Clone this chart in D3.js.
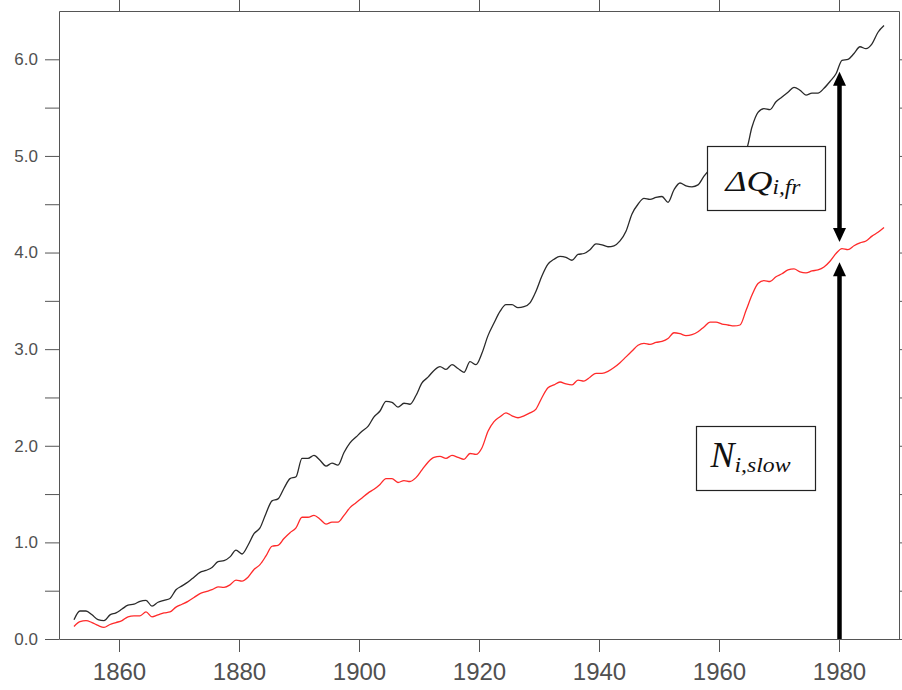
<!DOCTYPE html>
<html>
<head>
<meta charset="utf-8">
<script src="https://cdn.jsdelivr.net/npm/d3@7"></script>
<style>
  html, body { margin: 0; padding: 0; background: #fff; }
  svg { display: block; }
</style>
</head>
<body>
<script>
// Annual series, plotted at mid-year. Values start in 1852.
const firstYear = 1852;

// Total (upper, black) curve
const totalSeries = [
  0.20, 0.29, 0.29, 0.25, 0.20, 0.19, 0.25, 0.27, 0.31, 0.35,
  0.36, 0.39, 0.40, 0.34, 0.38, 0.40, 0.42, 0.51, 0.55, 0.59,
  0.64, 0.69, 0.71, 0.74, 0.80, 0.81, 0.85, 0.92, 0.88, 0.97,
  1.09, 1.15, 1.30, 1.43, 1.45, 1.56, 1.66, 1.68, 1.87, 1.87,
  1.90, 1.85, 1.79, 1.82, 1.80, 1.93, 2.03, 2.09, 2.15, 2.20,
  2.30, 2.36, 2.46, 2.45, 2.40, 2.44, 2.43, 2.52, 2.65, 2.71,
  2.78, 2.82, 2.79, 2.84, 2.80, 2.76, 2.87, 2.84, 2.96, 3.14,
  3.27, 3.39, 3.46, 3.46, 3.43, 3.44, 3.48, 3.60, 3.76, 3.88,
  3.93, 3.96, 3.95, 3.92, 3.98, 3.99, 4.03, 4.09, 4.08, 4.06,
  4.07, 4.12, 4.22, 4.40, 4.50, 4.56, 4.55, 4.57, 4.58, 4.52,
  4.65, 4.72, 4.69, 4.68, 4.70, 4.79, 4.86, 4.90, 4.94, 4.97,
  5.00, 5.03, 5.06, 5.30, 5.45, 5.49, 5.48, 5.56, 5.61, 5.66,
  5.71, 5.68, 5.63, 5.65, 5.65, 5.70, 5.77, 5.85, 5.99, 6.00,
  6.06, 6.13, 6.11, 6.16, 6.28, 6.35
];

// Slow component (lower, red) curve
const slowSeries = [
  0.13, 0.18, 0.19, 0.17, 0.14, 0.12, 0.15, 0.17, 0.19, 0.23,
  0.24, 0.24, 0.28, 0.23, 0.25, 0.27, 0.28, 0.33, 0.36, 0.39,
  0.43, 0.47, 0.49, 0.51, 0.54, 0.535, 0.56, 0.61, 0.60, 0.64,
  0.72, 0.77, 0.86, 0.96, 0.97, 1.04, 1.10, 1.15, 1.26, 1.26,
  1.28, 1.24, 1.19, 1.21, 1.21, 1.28, 1.36, 1.41, 1.46, 1.51,
  1.55, 1.60, 1.66, 1.66, 1.62, 1.64, 1.63, 1.67, 1.75, 1.83,
  1.88, 1.89, 1.87, 1.90, 1.88, 1.86, 1.92, 1.91, 1.98, 2.15,
  2.25, 2.30, 2.34, 2.31, 2.29, 2.31, 2.34, 2.38, 2.50, 2.60,
  2.63, 2.66, 2.64, 2.63, 2.68, 2.67, 2.71, 2.75, 2.75, 2.77,
  2.81, 2.86, 2.92, 2.98, 3.04, 3.06, 3.05, 3.07, 3.08, 3.11,
  3.17, 3.16, 3.14, 3.15, 3.18, 3.23, 3.28, 3.28, 3.26, 3.25,
  3.24, 3.25, 3.40, 3.56, 3.68, 3.71, 3.70, 3.75, 3.78, 3.82,
  3.83, 3.80, 3.79, 3.81, 3.82, 3.85, 3.91, 3.99, 4.04, 4.03,
  4.07, 4.10, 4.12, 4.17, 4.21, 4.26
];

const xTicks = [1860, 1880, 1900, 1920, 1940, 1960, 1980];
const yTicks = [0, 0.5, 1, 1.5, 2, 2.5, 3, 3.5, 4, 4.5, 5, 5.5, 6];
const yTickLabels = ["0.0", "", "1.0", "", "2.0", "", "3.0", "", "4.0", "", "5.0", "", "6.0"];

// Annotation: year of the arrows and the values they span
const arrowYear = 1980;
const deltaArrow = [5.87, 4.11];   // top tip, bottom tip
const slowArrow = [0, 3.90];       // base, tip
// Label boxes in data units: [yearLeft, yearRight, valueTop, valueBottom]
const deltaBox = [1958.0, 1977.6, 5.10, 4.44];
const slowBox = [1956.1, 1975.95, 2.20, 1.54];

const W = 902, H = 690;
const svg = d3.select("body").append("svg").attr("width", W).attr("height", H);

const x = d3.scaleLinear().domain([1850, 1990]).range([59, 899]);
const y = d3.scaleLinear().domain([0, 6.5]).range([639, 11]);

const axisColor = "#555";
const labelColor = "#505050";

// Plot area clip
svg.append("defs").append("clipPath").attr("id", "plotClip")
  .append("rect").attr("x", x(1850)).attr("y", y(6.5))
  .attr("width", x(1990) - x(1850)).attr("height", y(0) - y(6.5));

const totalPts = totalSeries.map((v, i) => [firstYear + i + 0.5, v]);
const slowPts = slowSeries.map((v, i) => [firstYear + i + 0.5, v]);

const line = d3.line().curve(d3.curveMonotoneX).x(d => x(d[0])).y(d => y(d[1]));

const plot = svg.append("g").attr("clip-path", "url(#plotClip)");
plot.append("path").datum(totalPts).attr("d", line)
  .attr("fill", "none").attr("stroke", "#2a2a2a").attr("stroke-width", 1.3)
  .attr("stroke-linejoin", "round");
plot.append("path").datum(slowPts).attr("d", line)
  .attr("fill", "none").attr("stroke", "#ff2a2a").attr("stroke-width", 1.3)
  .attr("stroke-linejoin", "round");

// Axes
function styleAxis(g) {
  g.selectAll("path.domain").attr("stroke", axisColor).attr("stroke-width", 1);
  g.selectAll(".tick line").attr("stroke", axisColor).attr("stroke-width", 1);
  g.selectAll(".tick text").attr("fill", labelColor)
    .attr("font-family", "'Liberation Sans', Arial, sans-serif");
}

const gx = svg.append("g").attr("transform", `translate(0,${y(0)})`)
  .call(d3.axisBottom(x).tickValues(xTicks).tickFormat(d3.format("d"))
    .tickSize(13).tickSizeOuter(0).tickPadding(11));
gx.attr("font-size", 24);
styleAxis(gx);

const gxTop = svg.append("g").attr("transform", `translate(0,${y(6.5)})`)
  .call(d3.axisTop(x).tickValues(xTicks).tickFormat(() => "")
    .tickSize(13).tickSizeOuter(0));
styleAxis(gxTop);

const gy = svg.append("g").attr("transform", `translate(${x(1850)},0)`)
  .call(d3.axisLeft(y).tickValues(yTicks).tickFormat((d, i) => yTickLabels[i])
    .tickSize(14).tickSizeOuter(0).tickPadding(7));
gy.attr("font-size", 17);
styleAxis(gy);

const gyRight = svg.append("g").attr("transform", `translate(${x(1990)},0)`)
  .call(d3.axisRight(y).tickValues(yTicks).tickFormat(() => "")
    .tickSize(13).tickSizeOuter(0));
styleAxis(gyRight);

// Arrows
const ax = x(arrowYear) + 0.5;
const headW = 13, headL = 14, shaftW = 4.5;

function arrowHead(tipY, dir) {
  // dir = -1 points up, +1 points down
  const baseY = tipY - dir * headL;
  return `M${ax},${tipY} L${ax - headW / 2},${baseY} L${ax + headW / 2},${baseY} Z`;
}

const arrows = svg.append("g");
// double arrow between the curves
arrows.append("line")
  .attr("x1", ax).attr("x2", ax)
  .attr("y1", y(deltaArrow[0]) + headL - 1).attr("y2", y(deltaArrow[1]) - headL + 1)
  .attr("stroke", "#000").attr("stroke-width", shaftW);
arrows.append("path").attr("d", arrowHead(y(deltaArrow[0]), -1)).attr("fill", "#000");
arrows.append("path").attr("d", arrowHead(y(deltaArrow[1]), 1)).attr("fill", "#000");
// single arrow from the axis to the lower curve
arrows.append("line")
  .attr("x1", ax).attr("x2", ax)
  .attr("y1", y(slowArrow[0])).attr("y2", y(slowArrow[1]) + headL - 1)
  .attr("stroke", "#000").attr("stroke-width", shaftW);
arrows.append("path").attr("d", arrowHead(y(slowArrow[1]), -1)).attr("fill", "#000");

// Label boxes
function labelBox(box) {
  const g = svg.append("g");
  const x0 = Math.round(x(box[0])) + 0.5, x1 = Math.round(x(box[1])) + 0.5;
  const y0 = Math.round(y(box[2])) + 0.5, y1 = Math.round(y(box[3])) + 0.5;
  g.append("rect").attr("x", x0).attr("y", y0)
    .attr("width", x1 - x0).attr("height", y1 - y0)
    .attr("fill", "#fff").attr("stroke", "#222").attr("stroke-width", 1.2);
  return { g, x0, y0, x1, y1 };
}

const serif = "'Liberation Serif', 'Times New Roman', serif";

const b1 = labelBox(deltaBox);
const t1 = b1.g.append("text")
  .attr("x", b1.x0 + 18).attr("y", b1.y0 + 44)
  .attr("font-family", serif).attr("font-style", "italic").attr("fill", "#111");
t1.append("tspan").attr("font-size", 29)
  .attr("textLength", 47).attr("lengthAdjust", "spacingAndGlyphs").text("ΔQ");
t1.append("tspan").attr("font-size", 20).attr("dy", 3)
  .attr("textLength", 28).attr("lengthAdjust", "spacingAndGlyphs").text("i,fr");

const b2 = labelBox(slowBox);
const t2 = b2.g.append("text")
  .attr("x", b2.x0 + 14).attr("y", b2.y0 + 40)
  .attr("font-family", serif).attr("font-style", "italic").attr("fill", "#111");
t2.append("tspan").attr("font-size", 36).text("N");
t2.append("tspan").attr("font-size", 21).attr("dy", 5)
  .attr("textLength", 56).attr("lengthAdjust", "spacingAndGlyphs").text("i,slow");
</script>
</body>
</html>
